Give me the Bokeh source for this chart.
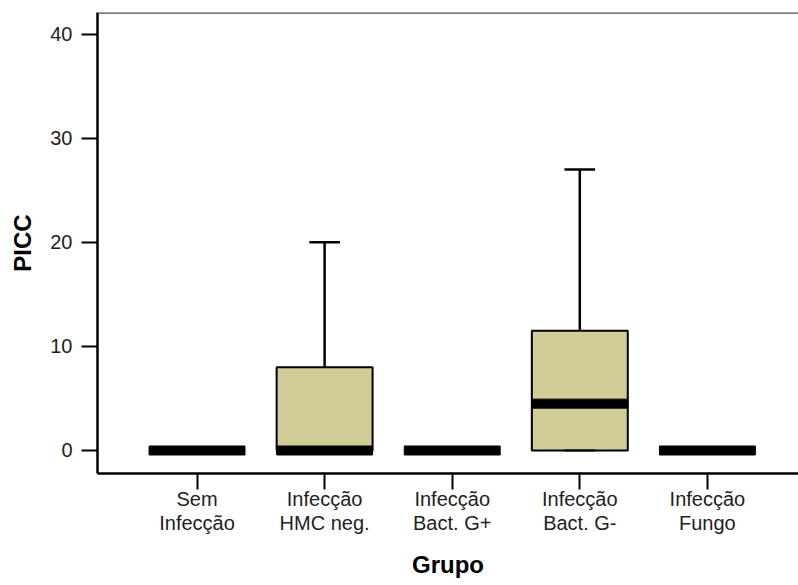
from bokeh.plotting import figure
from bokeh.models import Range1d, FixedTicker, Span
from bokeh.embed import file_html
from bokeh.resources import INLINE

# ---- data ----
categories = ["Sem\nInfecção", "Infecção\nHMC neg.", "Infecção\nBact. G+",
              "Infecção\nBact. G-", "Infecção\nFungo"]
q1 = [0, 0, 0, 0, 0]
median = [0, 0, 0, 4.5, 0]
q3 = [0, 8, 0, 11.5, 0]
lower = [0, 0, 0, 0, 0]
upper = [0, 20, 0, 27, 0]
y_ticks = [0, 10, 20, 30, 40]

xs = list(range(1, len(categories) + 1))
FONT = "Liberation Sans"
BOX_FILL = "#D2CC96"
BOX_W = 0.752
CAP_W = 0.24
Y_TOP = 42.07

p = figure(width=798, height=585, output_backend="svg", toolbar_location=None,
           x_range=Range1d(0.22, 5.714), y_range=Range1d(-2.21, Y_TOP),
           min_border_left=97, min_border_top=12, min_border_bottom=112,
           min_border_right=0)
p.outline_line_color = None
p.xgrid.visible = False
p.ygrid.visible = False
p.background_fill_color = "white"
p.border_fill_color = "white"

# top frame line
p.add_layout(Span(location=Y_TOP, dimension="width", line_color="#505050", line_width=2.5))

# boxes (only where there is spread)
bx = [x for x, a, b in zip(xs, q1, q3) if b > a]
bb = [a for a, b in zip(q1, q3) if b > a]
bt = [b for a, b in zip(q1, q3) if b > a]
p.vbar(x=bx, bottom=bb, top=bt, width=BOX_W, fill_color=BOX_FILL,
       line_color="black", line_width=2)

# upper whiskers
wx = [x for x, t, u in zip(xs, q3, upper) if u > t]
w0 = [t for t, u in zip(q3, upper) if u > t]
w1 = [u for t, u in zip(q3, upper) if u > t]
p.segment(x0=wx, y0=w0, x1=wx, y1=w1, line_color="black", line_width=2.5)
p.segment(x0=[x - CAP_W / 2 for x in wx], y0=w1, x1=[x + CAP_W / 2 for x in wx], y1=w1,
          line_color="black", line_width=2.5)

# lower whisker caps (where a box exists)
lx = [x for x, a, b in zip(xs, q1, q3) if b > a]
ly = [l for l, a, b in zip(lower, q1, q3) if b > a]
p.segment(x0=[x - CAP_W / 2 for x in lx], y0=ly, x1=[x + CAP_W / 2 for x in lx], y1=ly,
          line_color="black", line_width=2)

# medians (thick black bars)
p.rect(x=xs, y=median, width=BOX_W, height=9, height_units="screen",
       fill_color="black", line_color="black", line_width=1)

# axes
p.yaxis.ticker = FixedTicker(ticks=y_ticks)
p.xaxis.ticker = FixedTicker(ticks=xs)
p.xaxis.major_label_overrides = {x: c for x, c in zip(xs, categories)}
p.xaxis.axis_label = "Grupo"
p.yaxis.axis_label = "PICC"

for ax in (p.xaxis[0], p.yaxis[0]):
    ax.axis_line_color = "black"
    ax.axis_line_width = 2.5
    ax.major_tick_line_color = "black"
    ax.major_tick_line_width = 2
    ax.minor_tick_line_color = None
    ax.major_tick_in = 0
    ax.major_tick_out = 16
    ax.major_label_text_font = FONT
    ax.major_label_text_font_size = "20px"
    ax.major_label_text_color = "#222222"
    ax.axis_label_text_font = FONT
    ax.axis_label_text_font_style = "bold"
    ax.axis_label_text_font_size = "24px"
    ax.axis_label_text_color = "black"

p.xaxis.major_label_text_line_height = 1.1
p.yaxis.major_label_standoff = 9
p.yaxis.axis_label_standoff = 11
p.xaxis.major_label_standoff = -2
p.xaxis.axis_label_standoff = 14

open("out.html", "w").write(file_html(p, INLINE))
